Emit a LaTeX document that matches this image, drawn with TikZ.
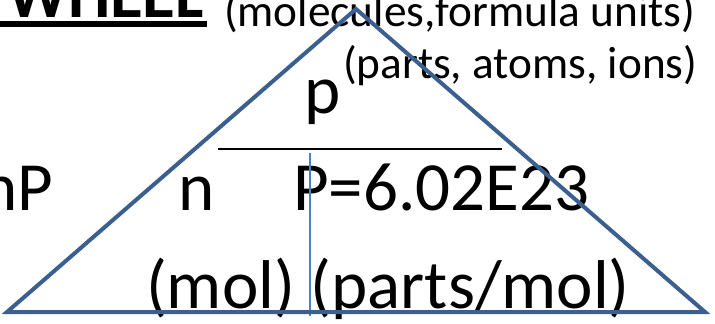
\documentclass[tikz,border=0pt]{standalone}
\usepackage{fontspec}
\setmainfont{Carlito}
\usepackage{xcolor}
\usetikzlibrary{positioning, calc}
\definecolor{triblue}{HTML}{3B5F8F}
\definecolor{splitblue}{HTML}{4F81BD}

\begin{document}
\begin{tikzpicture}[
  x=1pt, y=-1pt,
  every node/.style={inner sep=0pt, outer sep=0pt},
  smalltxt/.style={font=\fontsize{45.3}{48}\selectfont},
  bigtxt/.style={font=\fontsize{69}{72}\selectfont},
  triline/.style={draw=triblue, line width=4pt, line join=miter},
  divline/.style={line width=1.4pt}
]
\useasboundingbox (0,0) rectangle (715,324);
\clip (0,0) rectangle (715,324);

% corners of the triangle
\coordinate (left)  at (7,312);
\coordinate (apex)  at (356,9);
\coordinate (right) at (705,312);

% title and unit labels
\node[font=\fontsize{67}{72}\selectfont\bfseries, anchor=base east] (wheel) at (204,17) {WHEEL};
\draw[line width=6pt] ([xshift=-14pt, yshift=-7pt]wheel.base west) -- ([xshift=3pt, yshift=-7pt]wheel.base east);
\node[smalltxt, anchor=base west] (units) at (224,27) {(molecules,formula units)};
\node[smalltxt, anchor=base west] (parts) at (343,78) {(parts, atoms, ions)};

% quantities
\node[bigtxt, anchor=base west] (p)    at (304,113) {p};
\node[bigtxt, anchor=base east] (np)   at (53,210)  {nP};
\node[bigtxt, anchor=base west] (n)    at (178,210) {n};
\node[bigtxt, anchor=base west] (avog) at (293,210) {P=6.02E23};
\node[bigtxt, anchor=base west] (mol)  at (146,308) {(mol) (parts/mol)};

% dividers
\coordinate (barL) at (218,149);
\coordinate (barR) at (502,149);
\coordinate (splitT) at (310,153);
\coordinate (splitB) at (310,316);
\draw[divline] (barL) -- (barR);
\draw[draw=splitblue, line width=1.2pt] (splitT) -- (splitB);

\draw[triline] (left) -- (apex) -- (right) -- cycle;

\end{tikzpicture}
\end{document}
